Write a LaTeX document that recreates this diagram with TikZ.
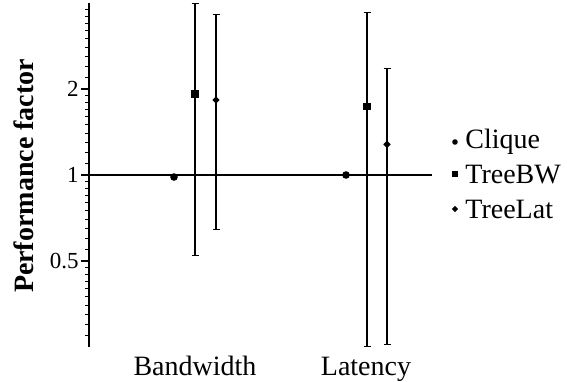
\documentclass[tikz,border=0pt]{standalone}
\usepackage{fontspec}
\setmainfont{Liberation Serif}
\usetikzlibrary{shapes.geometric,arrows.meta}
\tikzset{
  dotc/.style={circle,fill=black,inner sep=0pt,minimum size=#1},
  dots/.style={rectangle,fill=black,inner sep=0pt,minimum size=#1},
  dotd/.style={diamond,fill=black,inner sep=0pt,minimum size=#1},
  errbar/.style={line width=0.6pt,{Bar[width=3.5pt]}-{Bar[width=3.5pt]}},
  ticklbl/.style={anchor=east,inner sep=0pt,font=\fontsize{11.5}{12}\selectfont},
  biglbl/.style={inner sep=0pt,font=\fontsize{14}{16}\selectfont},
}
\begin{document}
\begin{tikzpicture}[x=0.5pt,y=0.5pt,declare function={ly(\v)=86*ln(\v)/ln(2);}]
	\useasboundingbox (-89,-206) rectangle (478,175);
	% axis and reference line
	\coordinate (axbot) at (0,{ly(0.25)});
	\coordinate (axtop) at (0,{ly(4)});
	\coordinate (one) at (0,0);
	\coordinate (oneend) at (343,0);
	\draw[line width=0.6pt] (axbot) -- (axtop);
	\draw[line width=0.6pt] (one) -- (oneend);
	\foreach \b in {0.25,0.5,1,2}
		\foreach \k in {1,...,9}
			\draw[line width=0.5pt] (-4,{ly(\b*(1+\k/10))}) -- (0,{ly(\b*(1+\k/10))});
	\foreach \v/\t in {0.5/0.5,1/1,2/2} {
		\draw[line width=0.6pt] (-8,{ly(\v)}) -- (0,{ly(\v)});
		\node[ticklbl] (tick\t) at (-10,{ly(\v)}) {\t};
	}
	\node[biglbl,rotate=90,font=\fontsize{14}{16}\selectfont\bfseries] (ylab) at (-65,-1) {Performance factor};
	% Bandwidth
	\coordinate (bwBWlo) at (106,{ly(0.52)});
	\coordinate (bwBWhi) at (106,{ly(4)});
	\coordinate (bwLatlo) at (127,{ly(0.64)});
	\coordinate (bwLathi) at (127,{ly(3.66)});
	\draw[errbar] (bwBWlo) -- (bwBWhi);
	\draw[errbar] (bwLatlo) -- (bwLathi);
	\node[dotc=3.8pt] (bwClique) at (85,{ly(0.984)}) {};
	\node[dots=3.7pt] (bwTreeBW) at (106,{ly(1.92)}) {};
	\node[dotd=3.8pt] (bwTreeLat) at (127,{ly(1.83)}) {};
	% Latency
	\coordinate (latBWlo) at (278,{ly(0.25)});
	\coordinate (latBWhi) at (278,{ly(3.72)});
	\coordinate (latLatlo) at (298,{ly(0.254)});
	\coordinate (latLathi) at (298,{ly(2.37)});
	\draw[errbar] (latBWlo) -- (latBWhi);
	\draw[errbar] (latLatlo) -- (latLathi);
	\node[dotc=3.8pt] (latClique) at (257,{ly(1)}) {};
	\node[dots=3.7pt] (latTreeBW) at (278,{ly(1.74)}) {};
	\node[dotd=3.8pt] (latTreeLat) at (298,{ly(1.28)}) {};
	% categories
	\node[biglbl,anchor=base] (catbw) at (106,-200) {Bandwidth};
	\node[biglbl,anchor=base] (catlat) at (277,-200) {Latency};
	% legend
	\node[dotc=2.8pt] (legc) at (366,33) {};
	\node[dots=2.8pt] (legs) at (366,1) {};
	\node[dotd=3.2pt] (legd) at (366,-34) {};
	\node[biglbl,anchor=base west] (legclique) at (376,27) {Clique};
	\node[biglbl,anchor=base west] (legtreebw) at (376,-8) {TreeBW};
	\node[biglbl,anchor=base west] (legtreelat) at (376,-43) {TreeLat};
\end{tikzpicture}
\end{document}
